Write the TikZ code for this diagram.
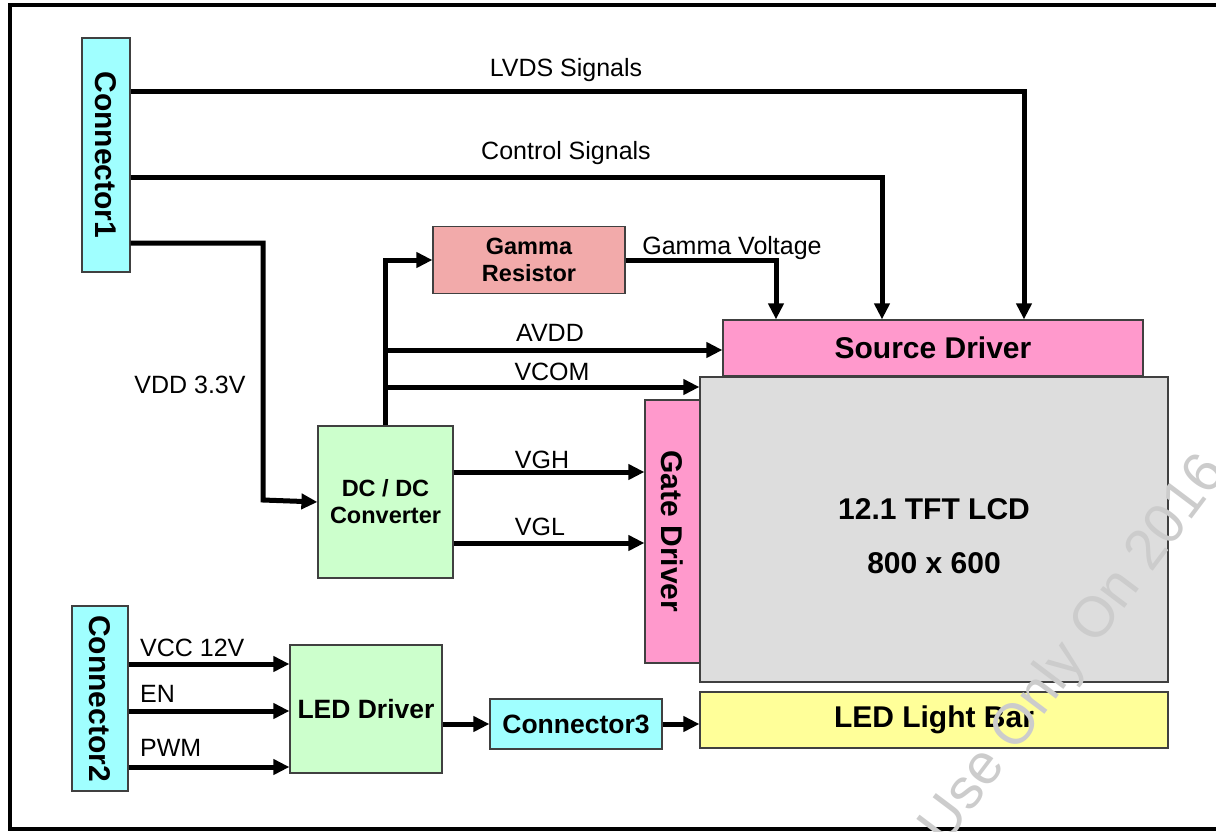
\documentclass[tikz,border=0pt]{standalone}
\usepackage{graphicx}
\usepackage{fontspec}
\setmainfont{Liberation Sans}
\usetikzlibrary{arrows.meta}

\definecolor{conncyan}{HTML}{A0FFFF}
\definecolor{gammared}{HTML}{F2AAAA}
\definecolor{powgreen}{HTML}{CCFFCC}
\definecolor{drvpink}{HTML}{FF99CC}
\definecolor{panelgray}{HTML}{DDDDDD}
\definecolor{baryellow}{HTML}{FFFF99}

\begin{document}
\begin{tikzpicture}[
  x=1pt, y=-1pt,
  block/.style={draw=black!75, line width=1.2pt, rectangle, inner sep=0pt, align=center},
  big/.style={font=\fontsize{30}{36}\selectfont\bfseries},
  mid/.style={font=\fontsize{26.5}{30}\selectfont\bfseries},
  small/.style={font=\fontsize{23.5}{27}\selectfont\bfseries},
  sig/.style={line width=5pt, -{Triangle[length=16pt,width=15pt]}},
  lbl/.style={inner sep=0pt, font=\fontsize{25}{30}\selectfont}]
\useasboundingbox (0,0) rectangle (1216,831);

% blocks
\node[block, big, fill=conncyan, minimum width=48pt, minimum height=234pt] (con1) at (106,155) {\rotatebox{-90}{Connector1}};
\node[block, small, fill=gammared, minimum width=192pt, minimum height=67pt] (gamma) at (529,260) {Gamma\\Resistor};
\node[block, small, fill=powgreen, minimum width=135pt, minimum height=152pt] (dcdc) at (385.5,502) {DC / DC\\Converter};
\node[block, big, fill=drvpink, minimum width=420pt, minimum height=56pt] (src) at (933,348) {Source Driver};
\node[block, big, fill=drvpink, minimum width=55pt, minimum height=263pt] (gate) at (672.5,531.5) {\rotatebox{-90}{Gate Driver}};
\node[block, big, fill=panelgray, minimum width=468pt, minimum height=305pt] (lcd) at (934,529.5) {\rule{0pt}{34pt}12.1 TFT LCD\\[18pt]800 x 600};
\node[block, big, fill=conncyan, minimum width=56pt, minimum height=185pt] (con2) at (100,698.5) {\rotatebox{-90}{Connector2}};
\node[block, mid, fill=powgreen, minimum width=152pt, minimum height=128pt] (led) at (366,709) {LED Driver};
\node[block, mid, fill=conncyan, minimum width=172pt, minimum height=50pt] (con3) at (576,724) {Connector3};
\node[block, big, fill=baryellow, minimum width=468pt, minimum height=56pt] (bar) at (934,720) {LED Light Bar};

% signals from connector1
\draw[sig] (con1.east |- 0,91) -| (src.north -| 1024,0);
\draw[sig] (con1.east |- 0,177) -| (src.north -| 882,0);
\draw[sig] (con1.east |- 0,243) -| (263,500) -- (dcdc.west);
\node[lbl] (lvds) at (566,70) {LVDS Signals};
\node[lbl] (ctrl) at (566,153) {Control Signals};
\node[lbl] (vdd) at (190,385) {VDD 3.3V};

% power rails
\draw[sig] (dcdc.north) |- (gamma.west);
\coordinate (avddj) at (dcdc.north |- 0,350);
\coordinate (vcomj) at (dcdc.north |- 0,387);
\draw[sig] (avddj) -- (src.west |- avddj);
\draw[sig] (vcomj) -- (lcd.west |- vcomj);
\draw[sig] (gamma.east) -| (src.north -| 776,0);
\draw[sig] (dcdc.east |- 0,472) -- (gate.west |- 0,472);
\draw[sig] (dcdc.east |- 0,543) -- (gate.west |- 0,543);
\node[lbl] (gv) at (732,248) {Gamma Voltage};
\node[lbl] (avdd) at (550,333) {AVDD};
\node[lbl] (vcom) at (552,372) {VCOM};
\node[lbl] (vgh) at (542,460) {VGH};
\node[lbl] (vgl) at (540,527) {VGL};

% backlight
\draw[sig] (con2.east |- 0,664) -- (led.west |- 0,664);
\draw[sig] (con2.east |- 0,711) -- (led.west |- 0,711);
\draw[sig] (con2.east |- 0,767) -- (led.west |- 0,767);
\draw[sig] (led.east |- con3.west) -- (con3.west);
\draw[sig] (con3.east) -- (bar.west |- con3.east);
\node[lbl, anchor=west] (vcc) at (140,648) {VCC 12V};
\node[lbl, anchor=west] (en) at (140,694) {EN};
\node[lbl, anchor=west] (pwm) at (140,748) {PWM};

% frame and watermark
\draw[line width=4pt] (10,5) rectangle (1240,829);
\node[anchor=base west, rotate=53, inner sep=0pt, text=black!20,
  font=\fontsize{57}{66}\selectfont] (mark) at (945.5,846.7) {Use Only On 2016};
\end{tikzpicture}
\end{document}
